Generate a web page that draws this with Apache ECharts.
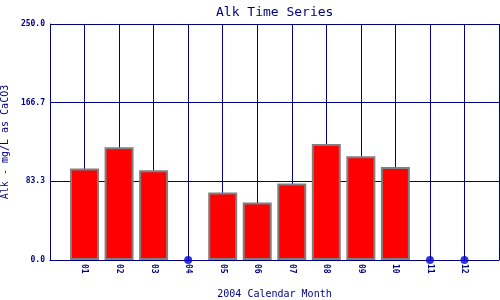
<!DOCTYPE html>
<html>
<head>
<meta charset="utf-8">
<script src="https://cdn.jsdelivr.net/npm/echarts@6/dist/echarts.min.js"></script>
<style>html,body{margin:0;padding:0;background:#fff}#c{width:500px;height:300px}</style>
</head>
<body>
<div id="c"></div>
<script>
var months = ['01','02','03','04','05','06','07','08','09','10','11','12'];
var alk = [97, 119.5, 95, null, 71.5, 61, 81, 123, 110, 98.5, null, null];
var yTicks = [0, 83.3, 166.7, 250];
var titleText = 'Alk Time Series';
var xName = '2004 Calendar Month';
var yName = 'Alk - mg/L as CaCO3';

var cats = [''].concat(months).concat(['']);
var barData = [null].concat(alk).concat([null]);
var missing = [];
months.forEach(function (m, i) { if (alk[i] === null) missing.push([m, 0]); });

var navy = '#000080';
var font = 'DejaVu Sans Mono';
var chart = echarts.init(document.getElementById('c'), null, {renderer: 'canvas'});
chart.setOption({
  animation: false,
  backgroundColor: '#fff',
  title: {
    text: titleText, left: 211, top: 1,
    textStyle: {fontFamily: font, fontSize: 13, fontWeight: 'normal', color: navy}
  },
  grid: {left: 50, right: 1, top: 24, bottom: 40, containLabel: false, outerBoundsMode: 'none'},
  xAxis: {
    type: 'category', data: cats, boundaryGap: false,
    name: xName, nameLocation: 'middle', nameGap: 29,
    nameTextStyle: {fontFamily: font, fontSize: 10, color: navy},
    axisLine: {show: true, lineStyle: {color: navy, width: 1}},
    axisTick: {show: false},
    axisLabel: {interval: 0, rotate: -90, margin: 4, fontFamily: font, fontSize: 8, fontWeight: 'bold', color: navy},
    splitLine: {show: true, interval: 0, lineStyle: {color: navy, width: 1}}
  },
  yAxis: {
    type: 'value', min: 0, max: 250, interval: 250 / 3,
    name: yName, nameLocation: 'middle', nameGap: 37,
    nameTextStyle: {fontFamily: font, fontSize: 10, color: navy},
    axisLine: {show: true, lineStyle: {color: navy, width: 1}},
    axisTick: {show: false},
    axisLabel: {margin: 5, fontFamily: font, fontSize: 8, fontWeight: 'bold', color: navy,
      formatter: function (v) {
        var best = yTicks[0];
        yTicks.forEach(function (t) { if (Math.abs(t - v) < Math.abs(best - v)) best = t; });
        return best.toFixed(1);
      }},
    splitLine: {show: true, lineStyle: {color: navy, width: 1}}
  },
  series: [
    {
      type: 'bar', data: barData, barWidth: 29,
      itemStyle: {color: '#ff0000', borderColor: '#808080', borderWidth: 2}
    },
    {
      type: 'scatter', data: missing, symbol: 'circle', symbolSize: 8,
      itemStyle: {color: '#0000cc'}, z: 5
    }
  ]
});
</script>
</body>
</html>
